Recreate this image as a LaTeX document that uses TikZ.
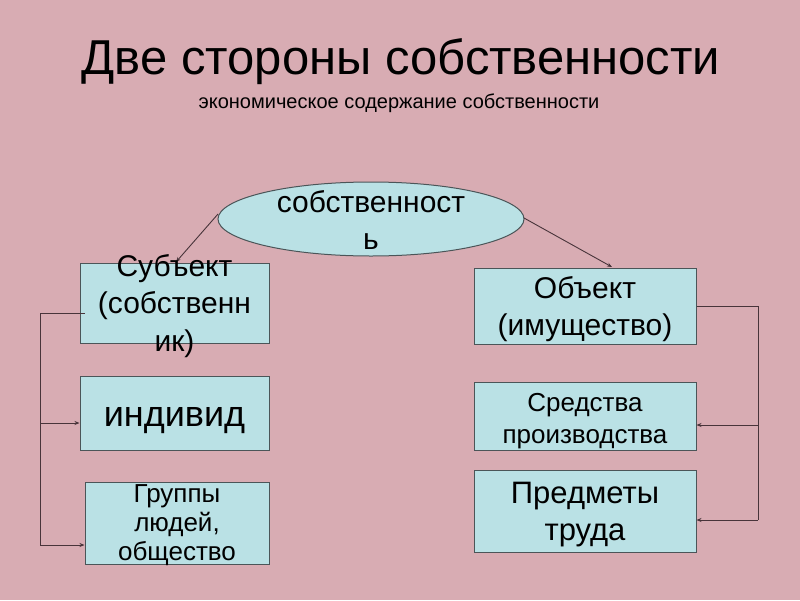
\documentclass[tikz,border=0pt]{standalone}
\usepackage{fontspec}
\setmainfont{Liberation Sans}
\usetikzlibrary{shapes.geometric,arrows.meta,calc}
\definecolor{bgpink}{RGB}{216,172,179}
\definecolor{boxcyan}{RGB}{186,225,229}
\definecolor{edgegray}{RGB}{75,85,88}
\definecolor{linegray}{RGB}{72,52,58}
\tikzset{
  box/.style={draw=edgegray, line width=1pt, fill=boxcyan, rectangle, inner sep=0pt},
  oval/.style={draw=edgegray, line width=1pt, fill=boxcyan, ellipse, inner sep=0pt},
  txt/.style={align=center, inner sep=0pt, text=black},
  conn/.style={draw=linegray, line width=0.9pt},
  tip/.style={-{Stealth[length=5pt,width=4pt]}}
}
\begin{document}
\begin{tikzpicture}[x=1pt,y=-1pt]
\path[fill=bgpink] (0,0) rectangle (800,600);
\useasboundingbox (0,0) rectangle (800,600);

% title
\node[txt, font=\fontsize{49}{54}\selectfont] (title) at (401,62) {Две стороны собственности};
\node[txt, font=\fontsize{20}{24}\selectfont] (subtitle) at (399,103) {экономическое содержание собственности};

% shapes
\node[oval, minimum width=306pt, minimum height=74pt] (own) at (371,219) {};
\node[box, minimum width=189pt, minimum height=80pt] (subj) at (174.5,303) {};
\node[box, minimum width=189pt, minimum height=74pt] (ind) at (174.5,413) {};
\node[box, minimum width=184pt, minimum height=82pt] (grp) at (177,523) {};
\node[box, minimum width=222pt, minimum height=76pt] (obj) at (585,306) {};
\node[box, minimum width=222pt, minimum height=68pt] (means) at (585,416) {};
\node[box, minimum width=222pt, minimum height=82pt] (items) at (585,511) {};

% connectors
\coordinate (ownL) at (218,214);
\coordinate (ownR) at (524,218);
\draw[conn, tip] (ownL) -- (176,262);
\draw[conn, tip] (ownR) -- (612,267);

\coordinate (lTop) at (40,313);
\coordinate (lMid) at (40,423);
\coordinate (lBot) at (40,545);
\draw[conn] (85,313) -- (lTop) -- (lBot);
\draw[conn, tip] (lMid) -- (ind.west |- lMid);
\draw[conn, tip] (lBot) -- (grp.west |- lBot);

\coordinate (rTop) at (758,306);
\coordinate (rMid) at (758,425);
\coordinate (rBot) at (758,520);
\draw[conn] (obj.east |- rTop) -- (rTop) -- (rBot);
\draw[conn, tip] (rMid) -- (means.east |- rMid);
\draw[conn, tip] (rBot) -- (items.east |- rBot);

% texts
\node[txt, font=\fontsize{30}{37}\selectfont] (ownT) at (371,220) {собственност\\ь};
\node[txt, font=\fontsize{30}{37.5}\selectfont] (subjT) at (174.5,306) {Субъект\\(собственн\\ик)};
\node[txt, font=\fontsize{36}{40}\selectfont] (indT) at (174.5,421) {индивид};
\node[txt, font=\fontsize{26}{29}\selectfont] (grpT) at (177,525) {Группы\\людей,\\общество};
\node[txt, font=\fontsize{30}{37}\selectfont] (objT) at (585,309) {Объект\\(имущество)};
\node[txt, font=\fontsize{26}{32}\selectfont] (meansT) at (585,421) {Средства\\производства};
\node[txt, font=\fontsize{31}{37}\selectfont] (itemsT) at (585,515) {Предметы\\труда};
\end{tikzpicture}
\end{document}
